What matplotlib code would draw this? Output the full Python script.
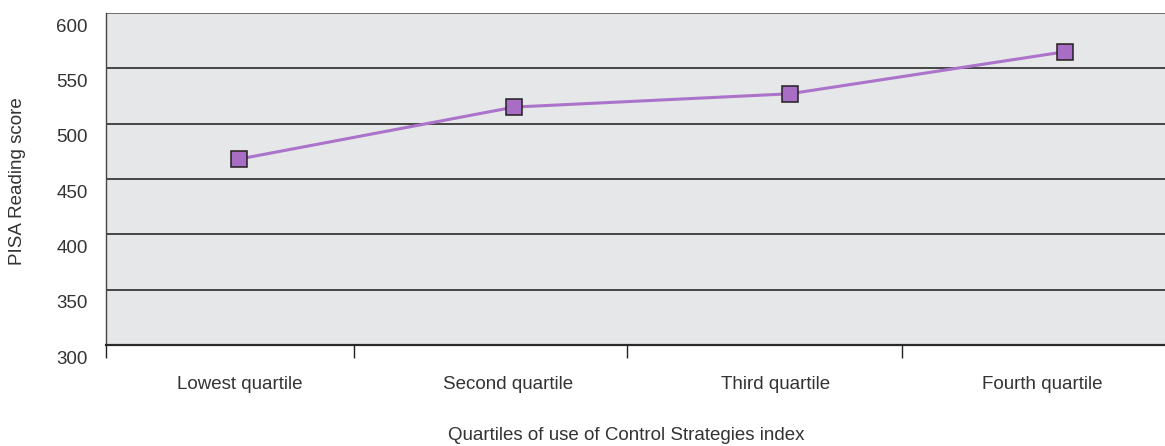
import matplotlib
matplotlib.use("Agg")
import matplotlib.pyplot as plt
from matplotlib.transforms import ScaledTranslation

categories = ["Lowest quartile", "Second quartile", "Third quartile", "Fourth quartile"]
scores = [468, 515, 527, 565]
y_ticks = [300, 350, 400, 450, 500, 550, 600]

plt.rcParams['font.family'] = ['Liberation Sans', 'DejaVu Sans']
txt = '#333333'
fs = 13.5

fig = plt.figure(figsize=(11.65, 4.46), dpi=100)
ax = fig.add_axes([106/1165, 1-345/446, 1-106/1165, 332/446])
ax.set_facecolor('#e6e7e9')

x = list(range(len(categories)))
ax.plot(x, scores, color='#ab73c9', lw=2.2, marker='s', markersize=12,
        markerfacecolor='#a86dc5', markeredgecolor='#231f20', markeredgewidth=1.1, zorder=3)

ax.set_xlim(-0.483, 3.363)
ax.set_ylim(300, 600)

for v in y_ticks[1:-1]:
    ax.axhline(v, color='#1a1a1a', lw=1.1, zorder=1)
ax.axhline(600, color='#6d6d6d', lw=1.4, zorder=1)

for s in ['top', 'right']:
    ax.spines[s].set_visible(False)
ax.spines['left'].set_color('#444444')
ax.spines['left'].set_linewidth(1.0)
ax.spines['bottom'].set_color('#2a2a2a')
ax.spines['bottom'].set_linewidth(1.6)

ax.set_yticks(y_ticks)
ax.set_yticklabels([str(v) for v in y_ticks], fontsize=fs, color=txt)
ax.tick_params(axis='y', length=0, pad=13)
off = ScaledTranslation(0, -12/100, fig.dpi_scale_trans)
for lab in ax.get_yticklabels():
    lab.set_transform(lab.get_transform() + off)

label_pos = [0.004, 0.977, 1.947, 2.916]
ax.set_xticks(label_pos)
ax.set_xticklabels(categories, fontsize=fs, color=txt)
ax.tick_params(axis='x', which='major', length=0, pad=22)
ax.set_xticks([-0.483, 0.418, 1.409, 2.408], minor=True)
ax.tick_params(axis='x', which='minor', length=9, width=1.0, color='#222222', direction='out')

fig.text(18/1165, 1-181/446, "PISA Reading score", rotation=90, ha='center', va='center',
         fontsize=fs, color=txt)
fig.text(626/1165, 1-436/446, "Quartiles of use of Control Strategies index", ha='center',
         va='center', fontsize=fs, color=txt)

fig.savefig("out.png", dpi=100)
